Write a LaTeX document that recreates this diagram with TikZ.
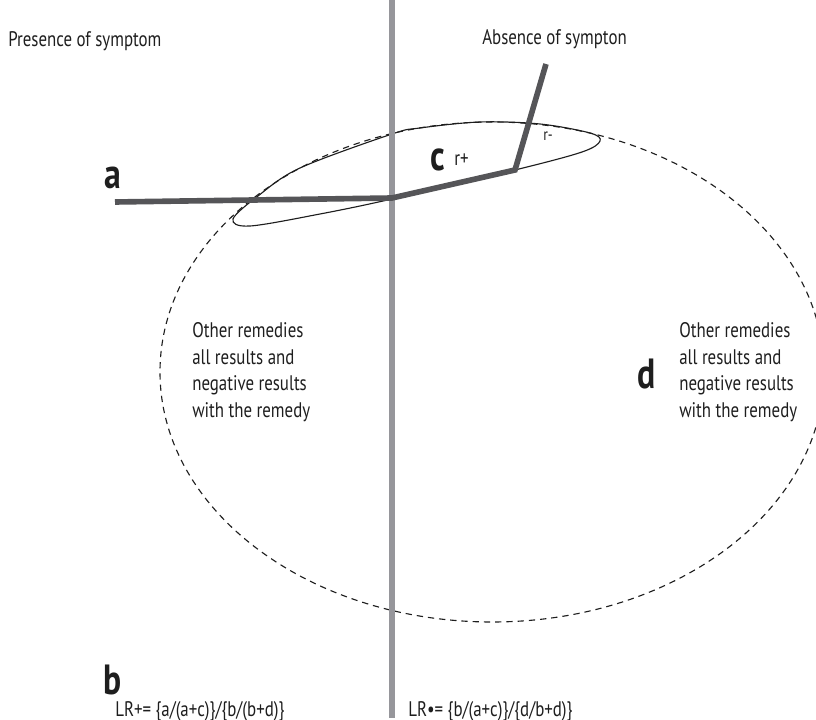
\documentclass[tikz,border=0pt]{standalone}
\usepackage{fontspec}
\setmainfont{PT Sans}[FakeStretch=0.8]
\usetikzlibrary{positioning}
\definecolor{divgray}{RGB}{150,150,155}
\definecolor{bargray}{RGB}{85,85,88}
\definecolor{ink}{RGB}{30,30,30}
\tikzset{
  txt/.style={font=\fontsize{15}{19}\selectfont,text=ink,inner sep=0pt},
  small txt/.style={font=\fontsize{12}{14}\selectfont,text=ink,inner sep=0pt},
  cell/.style={font=\fontsize{30}{30}\selectfont\bfseries,text=ink,inner sep=0pt},
  note/.style={txt,align=left,anchor=north west},
  divider/.style={draw=divgray,line width=3.6pt},
  bar/.style={draw=bargray,line width=4pt,line join=miter},
  region/.style={draw=ink,line width=0.8pt,dash pattern=on 4.5pt off 3.5pt},
}
\begin{document}
\begin{tikzpicture}[x=0.025cm,y=-0.025cm]
  \useasboundingbox (0,0) rectangle (816,720);
  % headings
  \node[txt,anchor=west] (pres) at (8,41) {Presence of symptom};
  \node[txt,anchor=west] (abs) at (482,39) {Absence of sympton};
  % all remedies (dashed) and the remedy (solid)
  \draw[region] (492,372) ellipse [x radius=332,y radius=250];
  \draw[ink,line width=0.8pt] plot[smooth cycle,tension=0.55] coordinates {
    (233,219) (250,226) (320,214) (392,199) (515,170) (582,152) (600,141)
    (590,133) (540,124) (480,122) (420,128) (392,134) (300,168) (258,196)};
  % divider
  \coordinate (dtop) at (392,0);
  \coordinate (dbot) at (392,718);
  \draw[divider] (dtop) -- (dbot);
  % result line
  \coordinate (a0) at (115,202);
  \coordinate (cross) at (392,198);
  \coordinate (bend) at (515,170);
  \coordinate (tip) at (546,64);
  \draw[bar] (a0) -- (cross) -- (bend) -- (tip);
  % cells
  \node[cell] (a) at (113,178) {a};
  \node[cell] (c) at (438,160) {c};
  \node[txt,right=6pt of c] (rp) {r+};
  \node[small txt] (rm) at (548,136) {r-};
  \node[cell] (b) at (113,680) {b};
  \node[cell] (d) at (647,374) {d};
  % notes
  \node[note] (nl) at (192,322) {Other remedies\\all results and\\negative results\\with the remedy};
  \node[note] (nr) at (679,322) {Other remedies\\all results and\\negative results\\with the remedy};
  % ratios
  \node[txt,anchor=base west] (lrp) at (115,716) {LR+= \{a/(a+c)\}/\{b/(b+d)\}};
  \node[txt,anchor=base west] (lrm) at (408,716) {LR•= \{b/(a+c)\}/\{d/b+d)\}};
\end{tikzpicture}
\end{document}
